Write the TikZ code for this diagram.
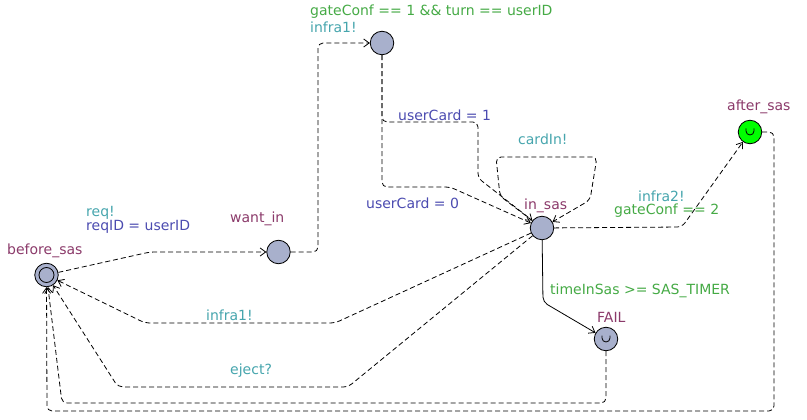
\documentclass[tikz,border=0pt]{standalone}
\usepackage{fontspec}
\setmainfont{DejaVu Sans}
\usetikzlibrary{arrows.meta}
\definecolor{locfill}{HTML}{A8B0CC}
\definecolor{locname}{HTML}{8B3A6A}
\definecolor{synccol}{HTML}{46A5AD}
\definecolor{guardcol}{HTML}{45AA45}
\definecolor{assigncol}{HTML}{4B4BB0}
\definecolor{urgentgreen}{HTML}{00FF00}
\tikzset{
  loc/.style={circle, draw=black, fill=locfill, minimum size=23.5pt, inner sep=0pt, line width=0.8pt},
  lbl/.style={anchor=west, inner sep=0pt, font=\fontsize{14}{16}\selectfont},
  nm/.style={lbl, text=locname},
  sy/.style={lbl, text=synccol},
  gd/.style={lbl, text=guardcol},
  as/.style={lbl, text=assigncol},
  edge/.style={line width=0.8pt, rounded corners=5pt, -{Straight Barb[length=5.5pt,width=8pt]}},
  dedge/.style={edge, dash pattern=on 5pt off 3pt},
  urg/.style={line width=0.8pt},
}
\begin{document}
\begin{tikzpicture}[x=1pt, y=-1pt]
\useasboundingbox (0,0) rectangle (807,420);
% locations
\node[loc] (bs) at (46.5,275) {};
\node[circle, draw=black, minimum size=15pt, inner sep=0pt, line width=0.8pt] (bsin) at (bs) {};
\node[loc] (wi) at (278.5,252) {};
\node[loc] (top) at (382,43) {};
\node[loc] (in) at (542,228) {};
\node[loc, fill=urgentgreen] (after) at (750,132) {};
\node[loc] (fail) at (606,339) {};
\draw[urg] ([shift={(-4pt,3.5pt)}]after.center) -- ++(0pt,-2.5pt) arc[start angle=180, end angle=360, radius=4pt] -- ++(0pt,2.5pt);
\draw[urg] ([shift={(-4pt,3.5pt)}]fail.center) -- ++(0pt,-2.5pt) arc[start angle=180, end angle=360, radius=4pt] -- ++(0pt,2.5pt);
% names
\node[nm] (nbs) at (7,251) {before\_sas};
\node[nm] (nwi) at (230,219) {want\_in};
\node[nm] (nin) at (524,206) {in\_sas};
\node[nm] (naf) at (727,107) {after\_sas};
\node[nm] (nfa) at (597,317) {FAIL};
% edges
\draw[dedge] (bs) -- (150,252) -- (wi);
\draw[dedge] (wi) -- (318,252) -- (318,43) -- (top);
\draw[dedge] (top) -- (382,122) -- (478,122) -- (478,178) -- (in);
\draw[dedge] (top) -- (382,187) -- (450,187) -- (in);
\draw[dedge] (in) -- (500,196) -- (496,157) -- (597,157) -- (590,200) -- (in);
\draw[dedge] (in) -- (682,227) -- (after);
\draw[dedge] (after) -- (774,132) -- (774,411) -- (47,411) -- (bs);
\draw[dedge] (fail) -- (606,403) -- (62,403) -- (bs);
\draw[dedge] (in) -- (348,387) -- (118,387) -- (bs);
\draw[dedge] (in) -- (335,323) -- (145,323) -- (bs);
\draw[edge] (in) -- (543,302) -- (fail);
% edge labels
\node[sy] (l1) at (86,213) {req!};
\node[as] (l2) at (86,227) {reqID = userID};
\node[gd] (l3) at (310,12) {gateConf == 1 \&\& turn == userID};
\node[sy] (l4) at (310,27) {infra1!};
\node[as] (l5) at (398,115) {userCard = 1};
\node[as] (l6) at (366,203) {userCard = 0};
\node[sy] (l7) at (518,139) {cardIn!};
\node[sy] (l8) at (638,196) {infra2!};
\node[gd] (l9) at (614,211) {gateConf == 2};
\node[sy] (l10) at (206,315) {infra1!};
\node[sy] (l11) at (230,371) {eject?};
\node[gd] (l12) at (550,291) {timeInSas >= SAS\_TIMER};
\end{tikzpicture}
\end{document}
